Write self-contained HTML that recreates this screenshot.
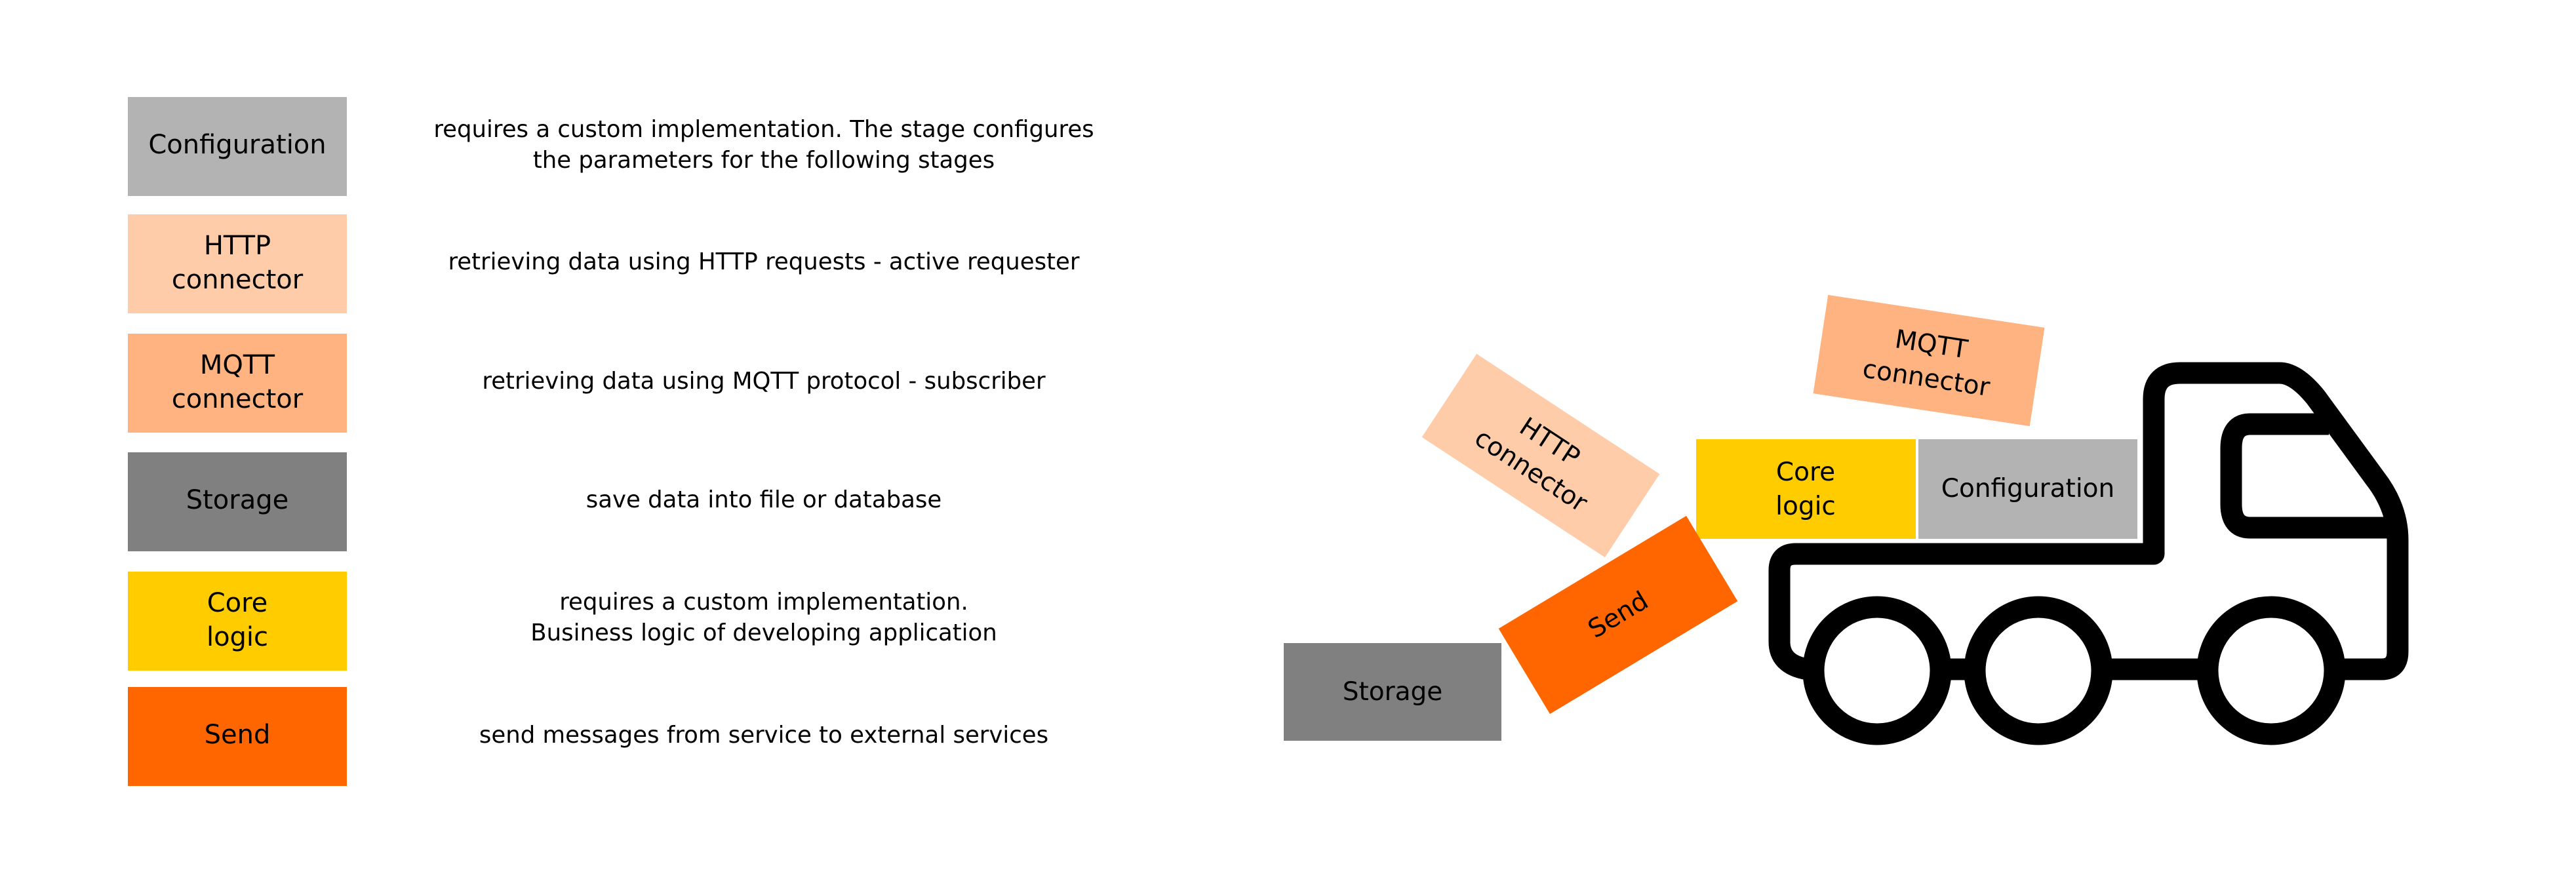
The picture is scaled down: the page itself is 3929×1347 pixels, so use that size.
<!DOCTYPE html>
<html><head><meta charset="utf-8"><style>
html,body{margin:0;padding:0;background:#fff;}
svg{display:block;}
text{font-family:"DejaVu Sans","Liberation Sans",sans-serif;fill:#000;}
</style></head><body>
<svg width="3929" height="1347" viewBox="0 0 3929 1347" xmlns="http://www.w3.org/2000/svg">
<rect width="3929" height="1347" fill="#fff"/>
<!-- legend boxes -->
<g font-size="40" text-anchor="middle">
<rect x="195" y="148" width="334" height="151" fill="#b3b3b3"/>
<text x="362" y="234">Configuration</text>
<rect x="195" y="327" width="334" height="151" fill="#ffccaa"/>
<text x="362" y="388">HTTP</text><text x="362" y="440">connector</text>
<rect x="195" y="509" width="334" height="151" fill="#ffb380"/>
<text x="362" y="570">MQTT</text><text x="362" y="622">connector</text>
<rect x="195" y="690" width="334" height="151" fill="#808080"/>
<text x="362" y="776">Storage</text>
<rect x="195" y="872" width="334" height="151" fill="#ffcc00"/>
<text x="362" y="933">Core</text><text x="362" y="985">logic</text>
<rect x="195" y="1048" width="334" height="151" fill="#ff6600"/>
<text x="362" y="1134">Send</text>
</g>
<g font-size="35.5" text-anchor="middle">
<text x="1165" y="209">requires a custom implementation. The stage configures</text>
<text x="1165" y="256">the parameters for the following stages</text>
<text x="1165" y="411">retrieving data using HTTP requests - active requester</text>
<text x="1165" y="593">retrieving data using MQTT protocol - subscriber</text>
<text x="1165" y="774">save data into file or database</text>
<text x="1165" y="930">requires a custom implementation.</text>
<text x="1165" y="977">Business logic of developing application</text>
<text x="1165" y="1133">send messages from service to external services</text>
</g>
<!-- right diagram -->
<g font-size="39" text-anchor="middle">
<rect x="1958" y="981" width="332" height="149" fill="#808080"/>
<text x="2124" y="1068">Storage</text>
<rect x="2587" y="670" width="335" height="152" fill="#ffcc00"/>
<text x="2754" y="733">Core</text><text x="2754" y="785">logic</text>
<rect x="2926" y="670" width="334" height="152" fill="#b3b3b3"/>
<text x="3093" y="758">Configuration</text>
<g transform="translate(2942,550) rotate(8.6)">
<rect x="-167" y="-76" width="334" height="152" fill="#ffb380"/>
<text x="0" y="-12">MQTT</text><text x="0" y="40">connector</text>
</g>
<g transform="translate(2350,695) rotate(33.3)">
<rect x="-167" y="-76" width="334" height="152" fill="#ffccaa"/>
<text x="0" y="-12">HTTP</text><text x="0" y="40">connector</text>
</g>
<g transform="translate(2468,938) rotate(-31)">
<rect x="-167" y="-76" width="334" height="152" fill="#ff6600"/>
<text x="0" y="13">Send</text>
</g>
</g>
<!-- truck -->
<g transform="translate(-13,-6)">
<g fill="none" stroke="#000" stroke-width="33" stroke-linejoin="round">
<path d="M3298,851 L3298,615 Q3298,575 3338,575 L3490,575 Q3515,575 3545,612 L3635,735 Q3670,780 3670,830 L3670,1000 Q3670,1027 3645,1027 L2770,1027"/>
<path d="M3298,820 L3298,851 L2752,851 Q2727,851 2727,876 L2727,985 Q2727,1020 2770,1027"/>
<path d="M3565,653 L3445,653 Q3416,653 3416,690 L3416,775 Q3416,811 3445,811 L3670,811"/>
</g>
<g fill="#fff" stroke="#000" stroke-width="33">
<circle cx="2876" cy="1029" r="97"/>
<circle cx="3122" cy="1029" r="97"/>
<circle cx="3477" cy="1029" r="97"/>
</g>
</g>
</svg>
</body></html>
